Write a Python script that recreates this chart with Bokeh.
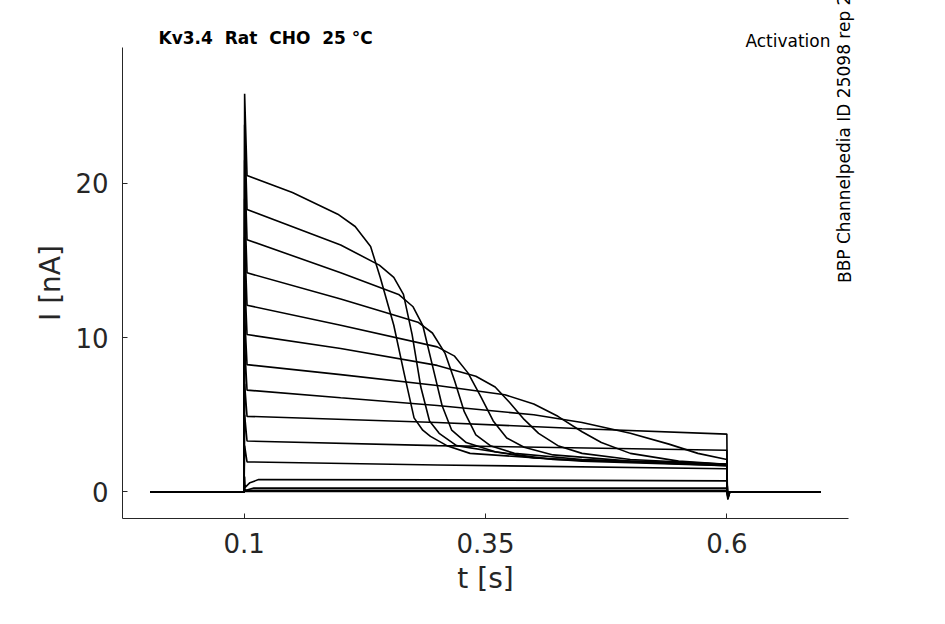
from bokeh.plotting import figure
from bokeh.models import Title, FixedTicker, Range1d, LinearAxis
from bokeh.embed import file_html
from bokeh.resources import INLINE

# knot points (t [s], I [nA]) of each trace during the step
t1 = [0.103, 0.15, 0.197, 0.215, 0.231, 0.241, 0.255, 0.266, 0.276, 0.285, 0.293, 0.31, 0.334, 0.45, 0.6]
i1 = [20.5, 19.4, 18.0, 17.2, 15.9, 13.9, 10.8, 7.6, 4.8, 4.0, 3.6, 3.0, 2.5, 2.0, 1.7]
t2 = [0.103, 0.2, 0.24, 0.255, 0.265, 0.274, 0.283, 0.292, 0.302, 0.32, 0.4, 0.6]
i2 = [18.3, 16.0, 14.7, 13.9, 12.8, 10.2, 6.8, 4.6, 3.8, 3.0, 2.2, 1.7]
t3 = [0.103, 0.2, 0.26, 0.275, 0.285, 0.295, 0.305, 0.315, 0.33, 0.36, 0.42, 0.6]
i3 = [16.35, 14.2, 12.8, 12.0, 10.8, 8.2, 5.6, 4.0, 3.2, 2.6, 2.1, 1.75]
t4 = [0.103, 0.2, 0.28, 0.295, 0.308, 0.318, 0.328, 0.34, 0.355, 0.38, 0.45, 0.6]
i4 = [14.2, 12.5, 11.0, 10.3, 9.0, 7.2, 5.2, 3.7, 3.0, 2.5, 2.1, 1.8]
t5 = [0.103, 0.2, 0.3, 0.318, 0.332, 0.345, 0.358, 0.372, 0.39, 0.42, 0.5, 0.6]
i5 = [12.1, 10.8, 9.4, 8.8, 7.7, 6.2, 4.6, 3.5, 2.9, 2.4, 2.0, 1.8]
t6 = [0.103, 0.2, 0.3, 0.34, 0.36, 0.375, 0.39, 0.405, 0.425, 0.45, 0.5, 0.6]
i6 = [10.2, 9.3, 8.2, 7.5, 6.8, 5.8, 4.7, 3.8, 3.0, 2.5, 2.1, 1.8]
t7 = [0.103, 0.2, 0.3, 0.37, 0.4, 0.425, 0.45, 0.47, 0.5, 0.55, 0.6]
i7 = [8.25, 7.6, 6.9, 6.3, 5.7, 4.9, 3.9, 3.2, 2.5, 2.0, 1.8]
t8 = [0.103, 0.2, 0.3, 0.4, 0.45, 0.5, 0.54, 0.57, 0.6]
i8 = [6.6, 6.1, 5.6, 5.0, 4.5, 3.8, 3.1, 2.5, 2.1]
t9 = [0.103, 0.3, 0.45, 0.6]
i9 = [4.9, 4.5, 4.1, 3.75]
t10 = [0.103, 0.3, 0.6]
i10 = [3.3, 3.0, 2.7]
t11 = [0.103, 0.3, 0.6]
i11 = [1.95, 1.75, 1.5]
t12 = [0.101, 0.106, 0.115, 0.3, 0.6]
i12 = [0.3, 0.6, 0.8, 0.78, 0.72]
t13 = [0.101, 0.11, 0.6]
i13 = [0.1, 0.25, 0.25]
t14 = [0.101, 0.6]
i14 = [0.1, 0.1]
t15 = [0.101, 0.6]
i15 = [0.03, 0.03]
peaks = [25.8, 23.8, 21.5, 19.0, 16.5, 14.0, 11.5, 9.5, 7.0, 5.0, 3.0, 1.0, 0.4, 0.2, 0.1]
tails = [-0.5, -0.45, -0.4, -0.35, -0.3, -0.3, -0.25, -0.2, -0.2, -0.15, -0.1, -0.05, 0.0, 0.0, 0.0]

knots = [(t1, i1), (t2, i2), (t3, i3), (t4, i4), (t5, i5), (t6, i6), (t7, i7), (t8, i8),
         (t9, i9), (t10, i10), (t11, i11), (t12, i12), (t13, i13), (t14, i14), (t15, i15)]

xs, ys = [], []
for (tk, ik), pk, tl in zip(knots, peaks, tails):
    xs.append([0.003, 0.0999, 0.1005] + tk + [0.6005, 0.601, 0.603, 0.697])
    ys.append([0.0, 0.0, pk] + ik + [0.0, tl, 0.0, 0.0])

p = figure(width=930, height=610, output_backend="svg", toolbar_location=None,
           x_range=Range1d(-0.026, 0.726), y_range=Range1d(-1.72, 28.8),
           min_border_left=122, min_border_right=82, min_border_top=47, min_border_bottom=92)
p.multi_line(xs, ys, line_color="black", line_width=1.6)

p.grid.visible = False
p.outline_line_color = None
p.xaxis.ticker = FixedTicker(ticks=[0.1, 0.35, 0.6])
p.yaxis.ticker = FixedTicker(ticks=[0, 10, 20])
p.xaxis.major_label_overrides = {0.1: "0.1", 0.35: "0.35", 0.6: "0.6"}
for ax in (p.xaxis, p.yaxis):
    ax.major_tick_in = 5
    ax.major_tick_out = 0
    ax.minor_tick_line_color = None
    ax.axis_line_color = "#262626"
    ax.major_tick_line_color = "#262626"
    ax.major_label_text_font = "DejaVu Sans"
    ax.major_label_text_font_size = "26px"
    ax.major_label_text_color = "#262626"
    ax.axis_label_text_font = "DejaVu Sans"
    ax.axis_label_text_font_size = "28px"
    ax.axis_label_text_font_style = "normal"
    ax.axis_label_text_color = "#262626"
p.xaxis.axis_label = "t [s]"
p.yaxis.axis_label = "I [nA]"
p.xaxis.major_label_standoff = 14
p.yaxis.major_label_standoff = 14
p.xaxis.axis_label_standoff = 6

nb = "\u00a0"
p.title.text = "Kv3.4" + nb * 2 + "Rat" + nb * 2 + "CHO" + nb * 2 + "25 °C"
p.title.align = "left"
p.title.offset = 36
p.title.standoff = -32
p.title.text_font = "DejaVu Sans"
p.title.text_font_size = "17px"
p.title.text_font_style = "bold"
p.title.text_color = "black"

p.add_layout(Title(text="Activation", align="right", offset=18, standoff=-6, text_color="black",
                   text_font="DejaVu Sans", text_font_size="17px", text_font_style="normal"), "above")

side = LinearAxis(ticker=FixedTicker(ticks=[]), axis_line_color=None, major_tick_line_color=None,
                  minor_tick_line_color=None, major_label_text_font_size="0px",
                  axis_label="BBP Channelpedia ID 25098 rep 2", axis_label_orientation=1.5708,
                  axis_label_standoff=-4, axis_label_text_font="DejaVu Sans",
                  axis_label_text_align="center",
                  axis_label_text_font_size="17px", axis_label_text_font_style="normal",
                  axis_label_text_color="black")
p.add_layout(side, "right")

open("out.html", "w").write(file_html(p, INLINE))
